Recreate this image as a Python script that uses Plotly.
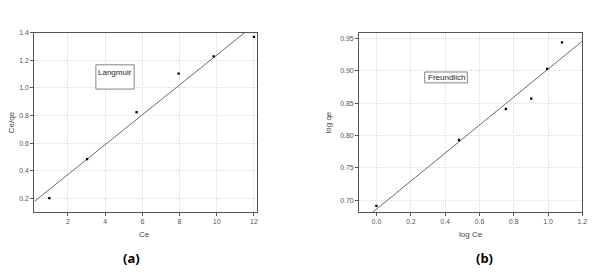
import numpy as np
import plotly.graph_objects as go

# Langmuir data
ce = [1.0, 3.03, 5.69, 7.95, 9.83, 12.0]
ce_qe = [0.20, 0.483, 0.824, 1.104, 1.23, 1.371]
# Freundlich data
log_ce = [0.0, 0.481, 0.754, 0.902, 0.995, 1.081]
log_qe = [0.691, 0.793, 0.841, 0.857, 0.903, 0.944]

xa_range = [0.2, 12.17]
ya_range = [0.1, 1.4]
xb_range = [-0.1, 1.2]
yb_range = [0.6817, 0.9587]

W, H = 597, 280

def px(x):
    return x / W

def py(y):
    return 1 - y / H

fig = go.Figure()

# fits
pa = np.polyfit(ce, ce_qe, 1)
pb = np.polyfit(log_ce, log_qe, 1)
fxa = np.array(xa_range)
fxb = np.array(xb_range)

fig.add_trace(go.Scatter(x=fxa, y=np.polyval(pa, fxa), mode="lines",
                         line=dict(color="#444", width=0.8), xaxis="x", yaxis="y"))
fig.add_trace(go.Scatter(x=ce, y=ce_qe, mode="markers",
                         marker=dict(symbol="square", size=2.3, color="black"), xaxis="x", yaxis="y"))
fig.add_trace(go.Scatter(x=fxb, y=np.polyval(pb, fxb), mode="lines",
                         line=dict(color="#444", width=0.8), xaxis="x2", yaxis="y2"))
fig.add_trace(go.Scatter(x=log_ce, y=log_qe, mode="markers",
                         marker=dict(symbol="square", size=2.3, color="black"), xaxis="x2", yaxis="y2"))

tickfont = dict(family="Liberation Sans, Arial", size=7, color="#555")
axis_common = dict(showline=True, mirror=True, linecolor="#555", linewidth=1.2,
                   ticks="outside", ticklen=3, tickcolor="#555", tickwidth=1,
                   showgrid=True, gridcolor="#d9dbe3", griddash="1px,1px", gridwidth=1,
                   zeroline=False, tickfont=tickfont)

fig.update_layout(
    width=W, height=H, margin=dict(l=0, r=0, t=0, b=0),
    paper_bgcolor="white", plot_bgcolor="white", showlegend=False,
    xaxis=dict(domain=[px(34.7), px(259.3)], range=xa_range, tickvals=[2, 4, 6, 8, 10, 12],
               anchor="y", **axis_common),
    yaxis=dict(domain=[py(211), py(29.3)], range=ya_range,
               tickvals=[0.2, 0.4, 0.6, 0.8, 1.0, 1.2, 1.4], tickformat=".1f",
               anchor="x", **axis_common),
    xaxis2=dict(domain=[px(362.3), px(587.3)], range=xb_range,
                tickvals=[0.0, 0.2, 0.4, 0.6, 0.8, 1.0, 1.2], tickformat=".1f",
                anchor="y2", **axis_common),
    yaxis2=dict(domain=[py(211), py(29.3)], range=yb_range,
                tickvals=[0.70, 0.75, 0.80, 0.85, 0.90, 0.95], tickformat=".2f",
                anchor="x2", **axis_common),
)

lab = dict(family="Liberation Sans, Arial", size=8, color="#444")
ann = [
    dict(text="Ce", x=px(146), y=py(234)),
    dict(text="log Ce", x=px(475), y=py(234)),
    dict(text="Ce/qe", x=px(11), y=py(120), textangle=-90),
    dict(text="log qe", x=px(331), y=py(120), textangle=-90),
]
for a in ann:
    fig.add_annotation(xref="paper", yref="paper", showarrow=False, font=lab,
                       xanchor="center", yanchor="middle", **a)

fig.add_annotation(text="(a)", xref="paper", yref="paper", x=px(133), y=py(258), showarrow=False,
                   font=dict(family="Noto Sans", size=13, color="black", weight="bold"),
                   xanchor="center", yanchor="middle")
fig.add_annotation(text="(b)", xref="paper", yref="paper", x=px(489), y=py(258), showarrow=False,
                   font=dict(family="Noto Sans", size=13, color="black", weight="bold"),
                   xanchor="center", yanchor="middle")

# Legend-like text boxes
boxfont = dict(family="Liberation Sans, Arial", size=8, color="#222")
fig.add_shape(type="rect", xref="paper", yref="paper", x0=px(96.7), x1=px(135.3), y0=py(86.3), y1=py(61.7),
              line=dict(color="#666", width=0.8), fillcolor="white")
fig.add_annotation(text="Langmuir", xref="paper", yref="paper", x=px(97.3), y=py(69.5), showarrow=False,
                   font=boxfont, xanchor="left", yanchor="middle")
fig.add_shape(type="rect", xref="paper", yref="paper", x0=px(428.3), x1=px(471.3), y0=py(80), y1=py(69),
              line=dict(color="#666", width=0.8), fillcolor="white")
fig.add_annotation(text="Freundlich", xref="paper", yref="paper", x=px(449.8), y=py(74.5), showarrow=False,
                   font=boxfont, xanchor="center", yanchor="middle")

fig.write_html("out.html", config={"displayModeBar": False},
               post_script="document.body.style.margin='0';document.body.style.overflow='hidden';")
